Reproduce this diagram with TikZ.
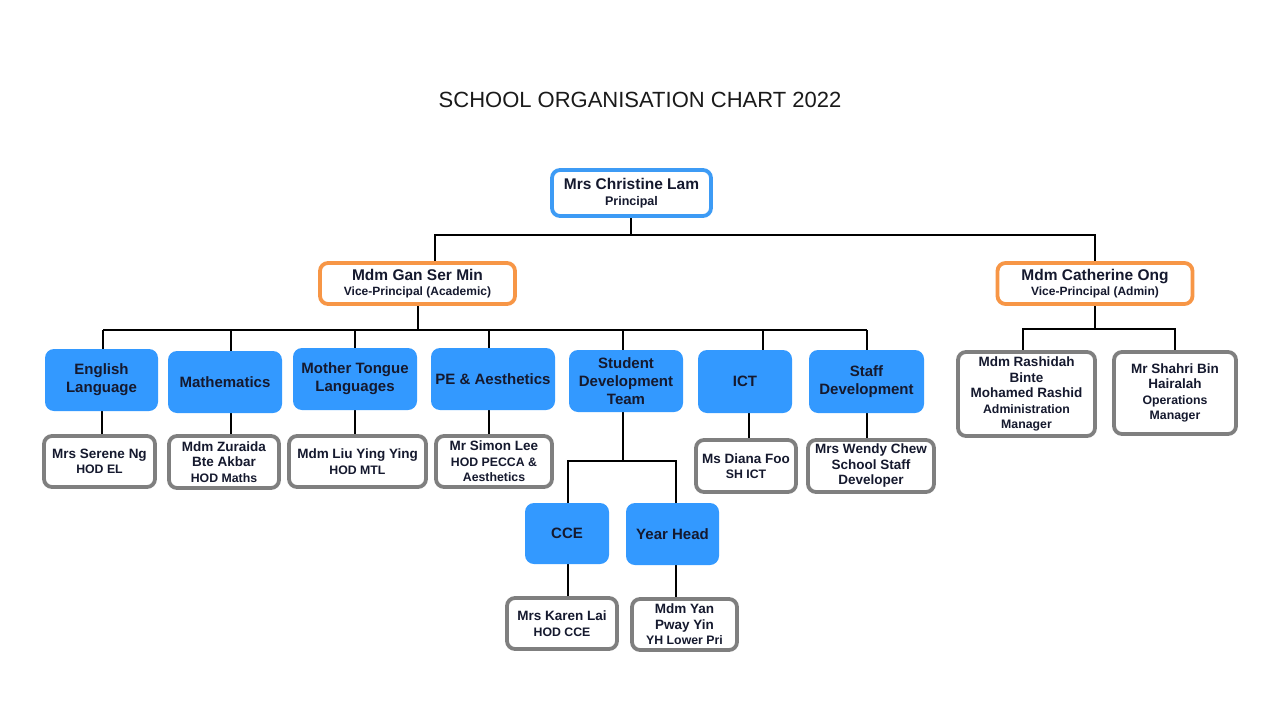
\documentclass[tikz,border=0pt]{standalone}
\usepackage{fontspec}
\setmainfont{Liberation Sans}
\usetikzlibrary{backgrounds,calc}
\definecolor{blueF}{HTML}{3399FF}
\definecolor{blueB}{HTML}{3D9BF5}
\definecolor{orangeB}{HTML}{F79646}
\definecolor{greyB}{HTML}{7F7F7F}
\definecolor{navy}{HTML}{15192E}
\definecolor{titlec}{HTML}{1A1A1A}
\newcommand\nmf{\fontsize{13.5}{15.5}\selectfont}
\newcommand\tlf{\fontsize{12.3}{15}\selectfont}
\tikzset{
  box/.style={align=center, inner sep=0pt, rounded corners=8pt, text=navy, font=\bfseries},
  prinbox/.style={box, draw=blueB, line width=3.8pt, fill=white, font=\bfseries\fontsize{15.5}{16}\selectfont},
  vpbox/.style={box, draw=orangeB, line width=3.8pt, fill=white, font=\bfseries\fontsize{15.5}{15.5}\selectfont},
  deptbox/.style={box, fill=blueF, rounded corners=9pt, font=\bfseries\fontsize{15}{18}\selectfont},
  personbox/.style={box, draw=greyB, line width=3.8pt, fill=white, font=\bfseries\nmf},
  conn/.style={line width=2.6pt, black},
}
\begin{document}
\begin{tikzpicture}[x=1pt,y=-1pt]
\useasboundingbox (0,0) rectangle (1280,720);
\node[text=titlec, font=\fontsize{22}{24}\selectfont] (title) at (640,100) {SCHOOL ORGANISATION CHART 2022};

% top levels
\node[prinbox, minimum width=159pt, minimum height=46pt] (prin) at (631.5,193)
  {Mrs Christine Lam\\{\fontsize{12.5}{15}\selectfont Principal}};
\node[vpbox, minimum width=195pt, minimum height=41pt] (vpa) at (417.5,283.5)
  {Mdm Gan Ser Min\\{\fontsize{12}{14}\selectfont Vice-Principal (Academic)}};
\node[vpbox, minimum width=195pt, minimum height=41pt] (vpb) at (1095,283.5)
  {Mdm Catherine Ong\\{\fontsize{12}{14}\selectfont Vice-Principal (Admin)}};

% departments
\node[deptbox, minimum width=113pt, minimum height=62pt] (eng) at (101.5,380) {English\\Language};
\node[deptbox, minimum width=114pt, minimum height=62pt] (math) at (225,382) {Mathematics};
\node[deptbox, minimum width=124pt, minimum height=62pt] (mtl) at (355,379) {Mother Tongue\\Languages};
\node[deptbox, minimum width=124pt, minimum height=62pt] (pe) at (493,379) {PE \& Aesthetics};
\node[deptbox, minimum width=114pt, minimum height=62pt] (sdt) at (626,381) {Student\\Development\\Team};
\node[deptbox, minimum width=94pt, minimum height=63pt] (ict) at (745,381.5) {ICT};
\node[deptbox, minimum width=115pt, minimum height=63pt] (staff) at (866.5,381.5) {Staff\\Development};
\node[deptbox, minimum width=84pt, minimum height=61pt] (cce) at (567,533.5) {CCE};
\node[deptbox, minimum width=93pt, minimum height=62pt] (yh) at (672.5,534) {Year Head};

% people
\node[personbox, minimum width=111pt, minimum height=51pt] (serene) at (99.5,461.5) {Mrs Serene Ng\\\tlf HOD EL};
\node[personbox, minimum width=110pt, minimum height=52pt] (zur) at (224,462) {Mdm Zuraida\\Bte Akbar\\\tlf HOD Maths};
\node[personbox, minimum width=137pt, minimum height=51pt] (liu) at (357.5,461.5) {Mdm Liu Ying Ying\\\tlf HOD MTL};
\node[personbox, minimum width=116pt, minimum height=51pt] (simon) at (494,461.5) {Mr Simon Lee\\\tlf HOD PECCA \&\\\tlf Aesthetics};
\node[personbox, minimum width=100pt, minimum height=52pt] (diana) at (746,466) {Ms Diana Foo\\\tlf SH ICT};
\node[personbox, minimum width=126pt, minimum height=52pt] (wendy) at (871,466) {Mrs Wendy Chew\\School Staff\\Developer};
\node[personbox, minimum width=137pt, minimum height=84pt] (rash) at (1026.5,394) {Mdm Rashidah\\Binte\\Mohamed Rashid\\\tlf Administration\\\tlf Manager};
\node[personbox, minimum width=122pt, minimum height=82pt] (shahri) at (1175,393) {Mr Shahri Bin\\Hairalah\\\tlf Operations\\\tlf Manager};
\node[personbox, minimum width=110pt, minimum height=51pt] (karen) at (562,623.5) {Mrs Karen Lai\\\tlf HOD CCE};
\node[personbox, minimum width=105pt, minimum height=51pt] (yan) at (684.5,624.5) {Mdm Yan\\Pway Yin\\\tlf YH Lower Pri};

% bus coordinates
\coordinate (pb) at (631,235);
\coordinate (pbL) at (435,235);
\coordinate (pbR) at (1095,235);
\coordinate (ab) at (418,330);
\coordinate (d1) at (103,330);
\coordinate (d2) at (231,330);
\coordinate (d3) at (355,330);
\coordinate (d4) at (489,330);
\coordinate (d5) at (623,330);
\coordinate (d6) at (763,330);
\coordinate (d7) at (867,330);
\coordinate (e1) at (102,0);
\coordinate (e2) at (231,0);
\coordinate (e3) at (355,0);
\coordinate (e4) at (489,0);
\coordinate (e6) at (749,0);
\coordinate (e7) at (867,0);
\coordinate (sb) at (623,461);
\coordinate (sbL) at (568,461);
\coordinate (sbR) at (676,461);
\coordinate (xb) at (1095,329);
\coordinate (xbL) at (1023,329);
\coordinate (xbR) at (1175,329);

\begin{scope}[on background layer]
  \fill[white] (0,0) rectangle (1280,720);
  \draw[conn] (prin.south -| pb) -- (pb);
  \draw[conn] (pbL |- vpa.north) -- (pbL) -- (pbR) -- (pbR |- vpb.north);
  \draw[conn] (ab |- vpa.south) -- (ab);
  \draw[conn] (d1) -- (d7);
  \draw[conn] (d1) -- (d1 |- eng.north);
  \draw[conn] (d2) -- (d2 |- math.north);
  \draw[conn] (d3) -- (d3 |- mtl.north);
  \draw[conn] (d4) -- (d4 |- pe.north);
  \draw[conn] (d5) -- (d5 |- sdt.north);
  \draw[conn] (d6) -- (d6 |- ict.north);
  \draw[conn] (d7) -- (d7 |- staff.north);
  \draw[conn] (e1 |- eng.south) -- (e1 |- serene.north);
  \draw[conn] (e2 |- math.south) -- (e2 |- zur.north);
  \draw[conn] (e3 |- mtl.south) -- (e3 |- liu.north);
  \draw[conn] (e4 |- pe.south) -- (e4 |- simon.north);
  \draw[conn] (e6 |- ict.south) -- (e6 |- diana.north);
  \draw[conn] (e7 |- staff.south) -- (e7 |- wendy.north);
  \draw[conn] (sb |- sdt.south) -- (sb);
  \draw[conn] (sbL |- cce.north) -- (sbL) -- (sbR) -- (sbR |- yh.north);
  \draw[conn] (sbL |- cce.south) -- (sbL |- karen.north);
  \draw[conn] (sbR |- yh.south) -- (sbR |- yan.north);
  \draw[conn] (vpb.south) -- (xb);
  \draw[conn] (xbL |- rash.north) -- (xbL) -- (xbR) -- (xbR |- shahri.north);
\end{scope}
\end{tikzpicture}
\end{document}
